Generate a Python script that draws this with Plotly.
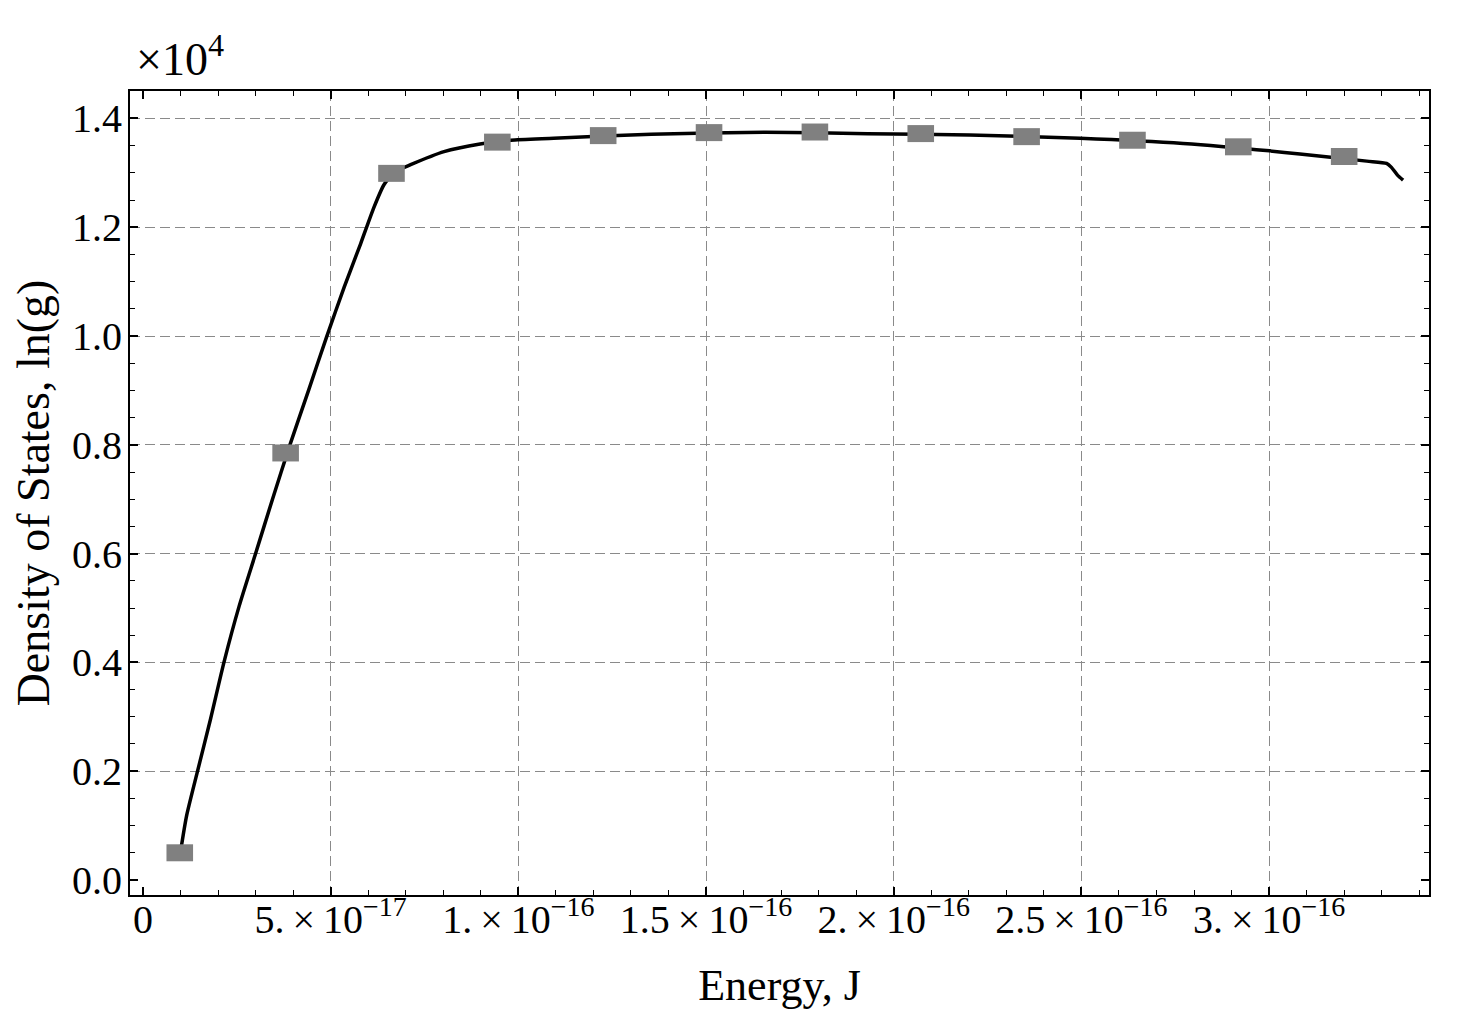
import plotly.graph_objects as go

# Wang-Landau style density of states, ln(g) vs energy (J)
marker_energy = [0.98e-17, 3.80e-17, 6.62e-17, 9.44e-17, 12.26e-17, 15.08e-17,
                 17.90e-17, 20.72e-17, 23.54e-17, 26.36e-17, 29.18e-17, 32.00e-17]
marker_lng = [500, 7850, 12990, 13564, 13684, 13739,
              13750, 13721, 13665, 13599, 13478, 13300]

curve_energy = [1.00e-17, 1.16e-17, 1.45e-17, 1.80e-17, 2.16e-17, 2.56e-17, 3.00e-17,
                3.45e-17, 3.91e-17, 4.42e-17, 4.89e-17, 5.36e-17, 5.80e-17, 6.15e-17,
                6.42e-17, 6.69e-17, 7.13e-17, 8.02e-17, 8.98e-17, 9.80e-17, 10.94e-17,
                13.54e-17, 16.59e-17, 19.31e-17, 22.02e-17, 24.96e-17, 27.71e-17,
                30.01e-17, 30.82e-17, 32.60e-17, 33.13e-17, 33.26e-17, 33.42e-17, 33.57e-17]
curve_lng = [520, 1175, 1992, 2960, 4010, 5030, 6000,
             7000, 7990, 9020, 9980, 10900, 11700, 12360,
             12780, 13010, 13150, 13390, 13530, 13600, 13634,
             13710, 13745, 13720, 13697, 13635, 13540,
             13404, 13344, 13215, 13173, 13100, 12958, 12866]

x_ticks = [0, 5e-17, 1e-16, 1.5e-16, 2e-16, 2.5e-16, 3e-16]
x_labels = ["0", "5.\u2009×\u200910<sup>−17</sup>", "1.\u2009×\u200910<sup>−16</sup>",
            "1.5\u2009×\u200910<sup>−16</sup>", "2.\u2009×\u200910<sup>−16</sup>",
            "2.5\u2009×\u200910<sup>−16</sup>", "3.\u2009×\u200910<sup>−16</sup>"]
y_ticks = [0, 2000, 4000, 6000, 8000, 10000, 12000, 14000]
y_labels = ["0.0", "0.2", "0.4", "0.6", "0.8", "1.0", "1.2", "1.4"]

X_RANGE = [-0.346e-17, 34.26e-17]
Y_RANGE = [-276, 14504]
FONT = "Liberation Serif"
GRID = "#8a8a8a"

fig = go.Figure()
fig.add_trace(go.Scatter(x=curve_energy, y=curve_lng, mode="lines",
                         line=dict(color="black", width=3.5, shape="spline", smoothing=0.6),
                         showlegend=False))
# rectangular gray markers (horizontal line symbol with a thick stroke);
# drawn on the overlay axes so those axes (and their dashed grid) get rendered
fig.add_trace(go.Scatter(x=marker_energy, y=marker_lng, mode="markers",
                         xaxis="x2", yaxis="y2",
                         marker=dict(symbol="line-ew", size=19, color="#808080",
                                     line=dict(width=17, color="#808080")),
                         showlegend=False))

frame = dict(showline=True, linecolor="black", linewidth=2, mirror="ticks",
             ticks="inside", ticklen=8, tickwidth=1.5, tickcolor="black",
             showgrid=False, zeroline=False)
grid = dict(showticklabels=False, ticks="", showline=False, zeroline=False,
            showgrid=True, gridcolor=GRID, griddash="10px,5px", gridwidth=1.2)

fig.update_layout(
    width=1468, height=1016,
    margin=dict(l=122, r=47, t=83, b=129),
    paper_bgcolor="white", plot_bgcolor="white",
    font=dict(family=FONT, size=40, color="black"),
    xaxis=dict(range=X_RANGE, tickvals=x_ticks, ticktext=x_labels,
               tickfont=dict(size=40), ticklabelstandoff=-12,
               minor=dict(dtick=1e-17, tick0=0, ticks="inside", ticklen=5,
                          tickcolor="black", tickwidth=1.2, showgrid=False),
               title=dict(text="Energy, J", font=dict(size=44), standoff=28),
               **frame),
    yaxis=dict(range=Y_RANGE, tickvals=y_ticks, ticktext=y_labels,
               tickfont=dict(size=40), ticklabelstandoff=-2,
               minor=dict(dtick=500, tick0=0, ticks="inside", ticklen=5,
                          tickcolor="black", tickwidth=1.2, showgrid=False),
               title=dict(text="Density of States, ln(g)", font=dict(size=46), standoff=9),
               **frame),
    # overlay axes used for the dashed grid (no grid line at zero)
    xaxis2=dict(overlaying="x", matches="x", anchor="y2", tickvals=x_ticks[1:], **grid),
    yaxis2=dict(overlaying="y", matches="y", anchor="x2", tickvals=y_ticks[1:], **grid),
    annotations=[dict(text="×10<sup>4</sup>", xref="paper", yref="paper", x=0, y=1,
                      xanchor="left", yanchor="bottom", xshift=4, yshift=4,
                      showarrow=False, font=dict(size=46))],
)

fig.write_html("out.html")
